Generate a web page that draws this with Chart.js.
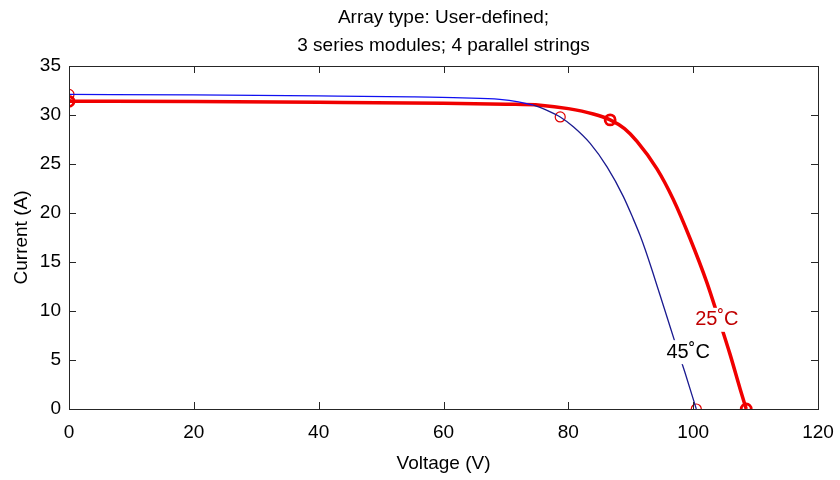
<!DOCTYPE html>
<html>
<head>
<meta charset="utf-8">
<script src="https://cdn.jsdelivr.net/npm/chart.js@4/dist/chart.umd.min.js"></script>
<style>
html,body{margin:0;padding:0;background:#fff;}
#wrap{width:840px;height:480px;}
</style>
</head>
<body>
<div id="wrap"><canvas id="c" width="840" height="480"></canvas></div>
<script>
// ---- data ----
const titleLines = ["Array type: User-defined;", "3 series modules; 4 parallel strings"];
const xTicks = [0, 20, 40, 60, 80, 100, 120];
const yTicks = [0, 5, 10, 15, 20, 25, 30, 35];

// 25°C curve (thick red)
const v25 = [0, 20, 40, 60, 70, 75.5, 80, 84, 86.7, 89, 91, 94.2, 96.8, 99.5, 102.2, 104, 105.9, 107.5, 108.5];
const i25 = [31.4, 31.37, 31.3, 31.2, 31.1, 31.0, 30.65, 30.1, 29.5, 28.6, 27.3, 24.5, 21.4, 17.4, 12.9, 9.4, 5.6, 2.1, 0];
// 45°C curve (thin blue)
const v45 = [0, 20, 40, 55, 63, 69, 72, 74.4, 76.5, 78.7, 80.8, 83.5, 86.2, 88.8, 90.4, 91.5, 92.3, 93.5, 94.7, 96, 97.1, 98.7, 100.5];
const i45 = [32.1, 32.05, 31.95, 31.85, 31.75, 31.6, 31.35, 31.0, 30.5, 29.8, 28.8, 27.1, 24.7, 21.7, 19.4, 17.7, 16.3, 14.0, 11.6, 9.0, 6.8, 3.7, 0];

// marker points (Isc, MPP, Voc)
const mark25V = [0, 86.7, 108.5];
const mark25I = [31.4, 29.5, 0];
const mark45V = [0, 78.7, 100.5];
const mark45I = [32.1, 29.8, 0];

const labels = ["25\u02DAC", "45\u02DAC"];
const labelV = [103.8, 99.2];
const labelI = [9.1, 5.8];

// ---- build ----
const pts = (xs, ys) => xs.map((x, k) => ({x: x, y: ys[k]}));
const FONT = "'Liberation Sans', Arial, sans-serif";

const decor = {
  id: 'decor',
  afterDatasetsDraw(chart) {
    const ctx = chart.ctx, a = chart.chartArea;
    const xs = chart.scales.x, ys = chart.scales.y;
    ctx.save();
    // inward ticks on all four sides
    ctx.strokeStyle = '#262626';
    ctx.lineWidth = 1;
    const tl = 7;
    xTicks.forEach(v => {
      const px = Math.round(xs.getPixelForValue(v)) + 0.5;
      ctx.beginPath();
      ctx.moveTo(px, a.bottom); ctx.lineTo(px, a.bottom - tl);
      ctx.moveTo(px, a.top); ctx.lineTo(px, a.top + tl);
      ctx.stroke();
    });
    yTicks.forEach(v => {
      const py = Math.round(ys.getPixelForValue(v)) + 0.5;
      ctx.beginPath();
      ctx.moveTo(a.left, py); ctx.lineTo(a.left + tl, py);
      ctx.moveTo(a.right, py); ctx.lineTo(a.right - tl, py);
      ctx.stroke();
    });
    ctx.strokeRect(Math.round(a.left) + 0.5, Math.round(a.top) + 0.5, Math.round(a.right - a.left), Math.round(a.bottom - a.top));
    // curve labels with white background
    ctx.font = '20px ' + FONT;
    ctx.textAlign = 'center';
    ctx.textBaseline = 'middle';
    const cols = ['#c00000', '#000000'];
    labels.forEach((t, k) => {
      const px = xs.getPixelForValue(labelV[k]);
      const py = ys.getPixelForValue(labelI[k]);
      const w = ctx.measureText(t).width;
      ctx.fillStyle = '#ffffff';
      ctx.fillRect(px - w / 2 - 2, py - 12, w + 4, 24);
      ctx.fillStyle = cols[k];
      ctx.fillText(t, px, py);
    });
    // title
    ctx.fillStyle = '#000000';
    ctx.font = '19px ' + FONT;
    const cx = (a.left + a.right) / 2;
    ctx.fillText(titleLines[0], cx, 18);
    ctx.fillText(titleLines[1], cx, 46);
    ctx.restore();
  }
};

new Chart(document.getElementById('c'), {
  type: 'scatter',
  data: {
    datasets: [
      {
        data: pts(v45, i45), showLine: true, pointRadius: 0, borderWidth: 1.3,
        borderColor: '#1a1aa0', cubicInterpolationMode: 'monotone',
        segment: { borderColor: c => (c.p1.parsed.x <= 74.5 ? '#1010f0' : '#1a1a90') }
      },
      {
        data: pts(v25, i25), showLine: true, pointRadius: 0, borderWidth: 3.5,
        borderColor: '#f00000', cubicInterpolationMode: 'monotone'
      },
      {
        data: pts(mark45V, mark45I), showLine: false, pointRadius: 5, pointBorderWidth: 1.2,
        pointBorderColor: '#e00000', pointBackgroundColor: 'rgba(0,0,0,0)', pointStyle: 'circle'
      },
      {
        data: pts(mark25V, mark25I), showLine: false, pointRadius: 5, pointBorderWidth: 2.8,
        pointBorderColor: '#f00000', pointBackgroundColor: 'rgba(0,0,0,0)', pointStyle: 'circle'
      }
    ]
  },
  options: {
    responsive: false,
    animation: false,
    events: [],
    layout: { padding: { top: 66, right: 22, left: 0, bottom: 0 } },
    plugins: { legend: { display: false }, tooltip: { enabled: false }, title: { display: false } },
    scales: {
      x: {
        type: 'linear', min: 0, max: 120,
        afterBuildTicks: s => { s.ticks = xTicks.map(v => ({value: v})); },
        afterFit: s => { s.height = 71; s.paddingLeft = 0; s.paddingRight = 0; },
        grid: { display: false, drawTicks: false },
        border: { display: false },
        ticks: { color: '#000', font: { family: FONT, size: 19 }, padding: 12, maxRotation: 0 },
        title: { display: true, text: 'Voltage (V)', color: '#000', font: { family: FONT, size: 19 }, padding: { top: 0, bottom: 5 } }
      },
      y: {
        type: 'linear', min: 0, max: 35,
        afterBuildTicks: s => { s.ticks = yTicks.map(v => ({value: v})); },
        afterFit: s => { s.width = 69; s.paddingTop = 0; s.paddingBottom = 0; },
        grid: { display: false, drawTicks: false },
        border: { display: false },
        ticks: { color: '#000', font: { family: FONT, size: 19 }, padding: 8 },
        title: { display: true, text: 'Current (A)', color: '#000', font: { family: FONT, size: 19 }, padding: { top: 10, bottom: 0 } }
      }
    }
  },
  plugins: [decor]
});
</script>
</body>
</html>
